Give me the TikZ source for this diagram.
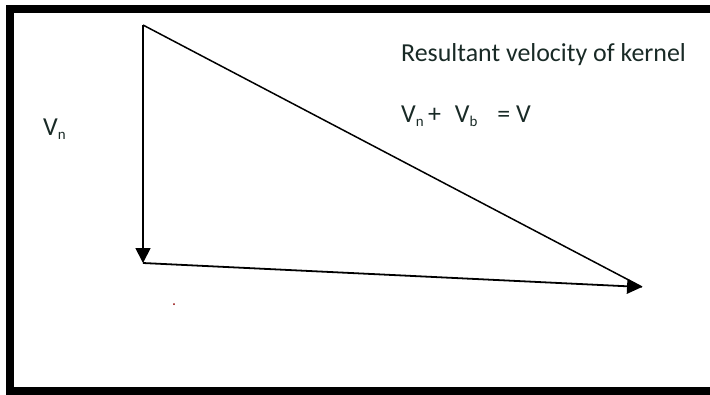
\documentclass[tikz,border=0pt]{standalone}
\usepackage{fontspec}
\setmainfont{Carlito}
\usetikzlibrary{arrows.meta}
\definecolor{labeltext}{RGB}{25,42,38}
\newcommand{\vsub}[1]{\raisebox{-4.5pt}{\fontsize{15}{15}\selectfont #1}}

\begin{document}
\begin{tikzpicture}[x=1bp,y=-1bp,
  vec/.style={line width=1.8pt,-{Triangle[length=15pt,width=15pt]}},
  side/.style={line width=1.5pt},
  lbl/.style={inner sep=0pt,anchor=base west,text=labeltext,font=\fontsize{26}{30}\selectfont}]
  \useasboundingbox (0,0) rectangle (710,394);
  \clip (0,0) rectangle (710,394);
  % outer frame, open on the right
  \draw[line width=8bp] (730,9) -- (9.5,9) -- (9.5,390.5) -- (730,390.5);

  % corners of the velocity triangle
  \coordinate (top) at (143,25);
  \coordinate (corner) at (143,263);
  \coordinate (tip) at (642,287);

  \draw[vec] (top) -- (corner);
  \draw[vec] (corner) -- (tip);
  \draw[side] (top) -- (tip);

  % labels
  \node[lbl] (vn) at (43,135) {V\vsub{n}};
  \node[lbl] (title) at (401,61.5) {Resultant velocity of kernel};
  \node[lbl] (sum) at (401,122) {V\vsub{n}\,+\hspace{14pt}V\vsub{b}\hspace{20pt}= V};

  \fill[red!55!black] (174,304) circle (1pt);
\end{tikzpicture}
\end{document}
